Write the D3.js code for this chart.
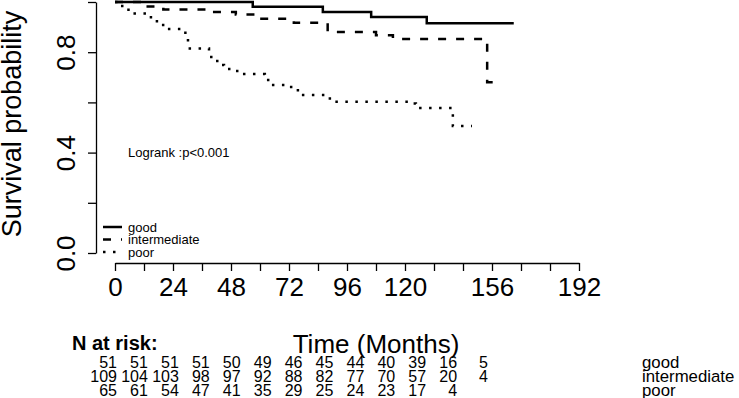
<!DOCTYPE html>
<html>
<head>
<meta charset="utf-8">
<script src="https://cdn.jsdelivr.net/npm/d3@7"></script>
<style>
  body { margin: 0; background: #fff; }
  svg { display: block; font-family: "Liberation Sans", Arial, sans-serif; }
</style>
</head>
<body>
<div id="chart"></div>
<script>
// Kaplan-Meier steps (months, survival)
var goodTime = [0, 57, 86, 106, 129, 165];
var goodSurv = [1, 0.981, 0.96, 0.94, 0.915, 0.915];

var interTime = [0, 12, 20, 38, 50, 58, 74, 88, 108, 115, 154, 160];
var interSurv = [1, 0.982, 0.97, 0.96, 0.95, 0.933, 0.917, 0.88, 0.868, 0.853, 0.68, 0.68];

var poorTime = [0, 1.2, 3.7, 6.6, 13.7, 16.1, 18.6, 21.1, 27.7, 30.2, 38.9, 40.5, 43, 45.1,
                49.6, 51.7, 62, 64.1, 70.7, 74, 76.5, 87.3, 90.2, 122, 124.5, 139.8, 147.7];
var poorSurv = [1, 0.984, 0.969, 0.954, 0.939, 0.923, 0.908, 0.892, 0.877, 0.815, 0.781, 0.765, 0.749, 0.733,
                0.725, 0.713, 0.689, 0.669, 0.661, 0.648, 0.629, 0.616, 0.603, 0.596, 0.578, 0.506, 0.506];

var groups = ["good", "intermediate", "poor"];

// axis ticks
var xTicks = d3.range(0, 193, 12);
var xLabels = [0, 24, 48, 72, 96, 120, 156, 192];
var yTicks = [0, 0.2, 0.4, 0.6, 0.8, 1.0];
var yLabels = [0, 0.4, 0.8];

// numbers at risk
var riskTimes = d3.range(0, 145, 12);
var riskGood = [51, 51, 51, 51, 50, 49, 46, 45, 44, 40, 39, 16, 5];
var riskInter = [109, 104, 103, 98, 97, 92, 88, 82, 77, 70, 57, 20, 4];
var riskPoor = [65, 61, 54, 47, 41, 35, 29, 25, 24, 23, 17, 4];

function init() {
    var w = 739;
    var h = 398;

    var svg = d3.select("#chart")
                .append("svg")
                .attr("width", w)
                .attr("height", h);

    var x = d3.scaleLinear().domain([0, 192]).range([115, 579]);
    var y = d3.scaleLinear().domain([0, 1]).range([253, 2]);

    // x axis
    var xAxis = d3.axisBottom(x)
                  .tickValues(xTicks)
                  .tickSize(8)
                  .tickSizeOuter(0)
                  .tickPadding(7)
                  .tickFormat(function(d) { return xLabels.indexOf(d) >= 0 ? d : ""; });
    var gx = svg.append("g").attr("transform", "translate(0,263)").call(xAxis);
    gx.selectAll("text").style("font-size", "26px").attr("fill", "#000");

    // y axis
    var yAxis = d3.axisLeft(y)
                  .tickValues(yTicks)
                  .tickSize(8)
                  .tickSizeOuter(0)
                  .tickFormat(function(d) { return yLabels.indexOf(d) >= 0 ? d3.format(".1f")(d) : ""; });
    var gy = svg.append("g").attr("transform", "translate(96,0)").call(yAxis);
    gy.selectAll("text")
      .attr("x", null).attr("dy", null)
      .style("font-size", "26px")
      .attr("fill", "#000")
      .attr("text-anchor", "middle")
      .attr("transform", "translate(-21,0) rotate(-90)");

    svg.selectAll(".domain, .tick line").attr("stroke", "#000").attr("stroke-width", 1.3);

    // axis titles
    svg.append("text")
       .attr("transform", "translate(21,124) rotate(-90)")
       .attr("text-anchor", "middle")
       .style("font-size", "27px")
       .text("Survival probability");

    svg.append("text")
       .attr("x", 376).attr("y", 353)
       .attr("text-anchor", "middle")
       .style("font-size", "26px")
       .text("Time (Months)");

    // curves
    var line = d3.line()
                 .x(function(d) { return x(d[0]); })
                 .y(function(d) { return y(d[1]); })
                 .curve(d3.curveStepAfter);

    var series = [
        { t: goodTime, s: goodSurv, dash: null },
        { t: interTime, s: interSurv, dash: "8,10" },
        { t: poorTime, s: poorSurv, dash: "2.5,7.5" }
    ];

    series.forEach(function(d) {
        svg.append("path")
           .datum(d3.zip(d.t, d.s))
           .attr("d", line)
           .attr("fill", "none")
           .attr("stroke", "#000")
           .attr("stroke-width", 2.5)
           .attr("stroke-dasharray", d.dash);
    });

    // legend
    var legY = [227, 239.5, 252];
    series.forEach(function(d, i) {
        svg.append("line")
           .attr("x1", 103).attr("x2", 122)
           .attr("y1", legY[i]).attr("y2", legY[i])
           .attr("stroke", "#000")
           .attr("stroke-width", 2.5)
           .attr("stroke-dasharray", d.dash);
        svg.append("text")
           .attr("x", 128).attr("y", legY[i])
           .attr("dy", "0.35em")
           .style("font-size", "13px")
           .text(groups[i]);
    });

    svg.append("text")
       .attr("x", 128).attr("y", 152)
       .attr("dy", "0.35em")
       .style("font-size", "13px")
       .text("Logrank :p<0.001");

    // numbers at risk
    svg.append("text")
       .attr("x", 72).attr("y", 350)
       .style("font-size", "20px")
       .style("font-weight", "bold")
       .text("N at risk:");

    var riskX = d3.scaleLinear().domain([0, 144]).range([117, 488]);
    var rows = [riskGood, riskInter, riskPoor];
    var rowY = [368, 382, 395.5];

    rows.forEach(function(r, i) {
        svg.selectAll(".risk" + i)
           .data(r)
           .enter()
           .append("text")
           .attr("class", "risk" + i)
           .attr("x", function(d, j) { return riskX(riskTimes[j]); })
           .attr("y", rowY[i])
           .attr("text-anchor", "end")
           .style("font-size", "16px")
           .text(function(d) { return d; });

        svg.append("text")
           .attr("x", 642).attr("y", rowY[i])
           .style("font-size", "16.8px")
           .text(groups[i]);
    });
}

window.onload = init;
</script>
</body>
</html>
